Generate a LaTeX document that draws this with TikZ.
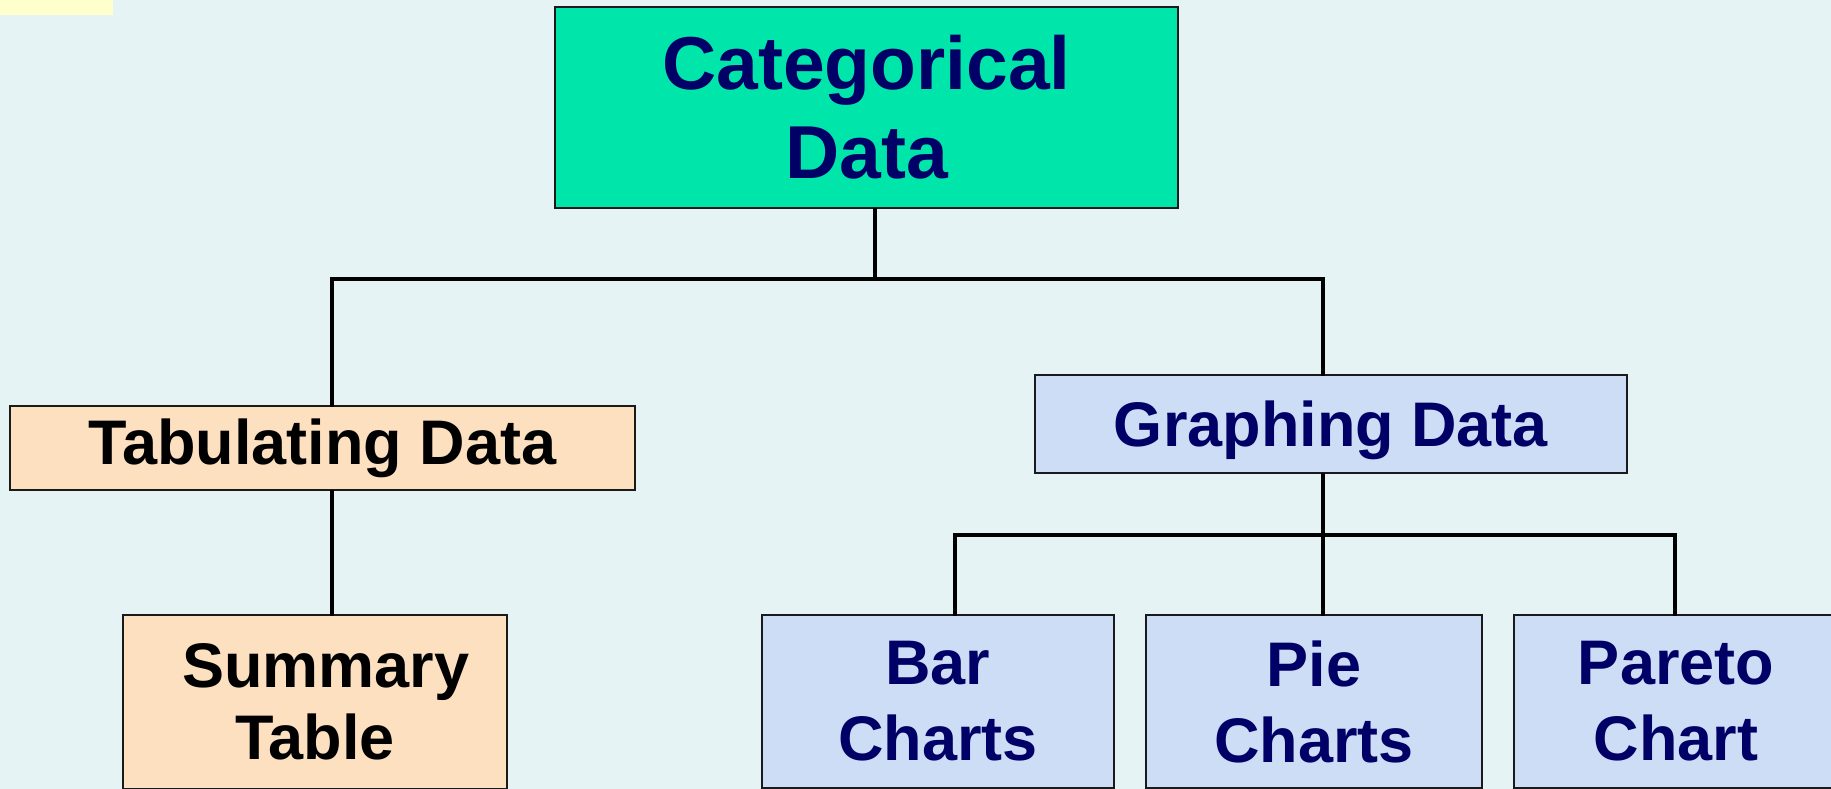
\documentclass[tikz,border=0pt]{standalone}
\usepackage{fontspec}
\setmainfont{Liberation Sans}
\definecolor{bgcol}{HTML}{E5F3F4}
\definecolor{yellowpatch}{HTML}{FFFFCC}
\definecolor{catgreen}{HTML}{00E5AA}
\definecolor{peach}{HTML}{FDE0C0}
\definecolor{lightblue}{HTML}{CCDDF5}
\definecolor{navy}{HTML}{000066}
\definecolor{edge}{HTML}{1A1A1A}
\begin{document}
\begin{tikzpicture}[x=1pt,y=-1pt,
  box/.style={draw=edge,line width=2.5pt,inner sep=0pt,align=center,
    font=\fontsize{63}{76}\selectfont\bfseries},
  bigfont/.style={font=\fontsize{75}{89}\selectfont\bfseries},
  tightfont/.style={font=\fontsize{63}{72}\selectfont\bfseries},
  greenbox/.style={box,fill=catgreen,text=navy},
  peachbox/.style={box,fill=peach,text=black},
  bluebox/.style={box,fill=lightblue,text=navy},
  conn/.style={draw=black,line width=3.5pt,line cap=rect}]
\clip (0,0) rectangle (1831,789);
\fill[bgcol] (0,0) rectangle (1831,789);
\fill[yellowpatch] (0,0) rectangle (113,15);

\node[greenbox,bigfont,minimum width=623pt,minimum height=201pt] (cat) at (866.5,107.5) {Categorical\\Data};
\node[peachbox,minimum width=625pt,minimum height=84pt] (tab) at (322.5,448) {Tabulating Data};
\node[bluebox,minimum width=592pt,minimum height=98pt,text depth=0pt] (graph) at (1331,424) {Graphing Data};
\node[peachbox,tightfont,minimum width=384pt,minimum height=174pt] (sum) at (315,702) {\hspace*{22pt}Summary\\Table};
\node[bluebox,minimum width=352pt,minimum height=173pt] (bar) at (938,701.5) {Bar\\Charts};
\node[bluebox,minimum width=336pt,minimum height=173pt] (pie) at (1314,701.5) {Pie\\Charts};
\node[bluebox,minimum width=324pt,minimum height=173pt] (pareto) at (1676,701.5) {Pareto\\Chart};

\coordinate (c1) at (875,279);
\coordinate (b1L) at (332,279);
\coordinate (b1R) at (1323,279);
\coordinate (b2L) at (955,535);
\coordinate (b2R) at (1675,535);

\draw[conn] (c1 |- cat.south) -- (c1);
\draw[conn] (b1L) -- (b1R);
\draw[conn] (b1L) -- (b1L |- tab.north);
\draw[conn] (b1L |- tab.south) -- (b1L |- sum.north);
\draw[conn] (b1R) -- (b1R |- graph.north);
\draw[conn] (b1R |- graph.south) -- (b1R |- pie.north);
\draw[conn] (b2L) -- (b2R);
\draw[conn] (b2L) -- (b2L |- bar.north);
\draw[conn] (b2R) -- (b2R |- pareto.north);
\end{tikzpicture}
\end{document}
